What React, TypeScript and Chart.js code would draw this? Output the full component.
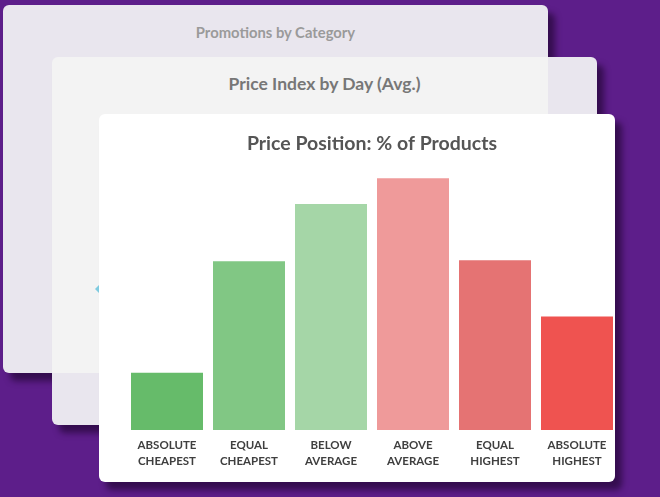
import React, { useEffect, useRef } from "react";
import { Chart, registerables } from "chart.js";

Chart.register(...registerables);

const chartTitle = "Price Position: % of Products";
const backTitle1 = "Promotions by Category";
const backTitle2 = "Price Index by Day (Avg.)";
const categories: string[][] = [
  ["ABSOLUTE", "CHEAPEST"],
  ["EQUAL", "CHEAPEST"],
  ["BELOW", "AVERAGE"],
  ["ABOVE", "AVERAGE"],
  ["EQUAL", "HIGHEST"],
  ["ABSOLUTE", "HIGHEST"],
];
const shares = [5.8, 17.1, 22.9, 25.5, 17.2, 11.5];
const barColors = ["#66bb6a", "#81c784", "#a5d6a7", "#ef9a9a", "#e57373", "#ef5350"];
const yMax = 26;

const FONT = "Lato, 'Open Sans', sans-serif";

export default function App() {
  const ref = useRef<HTMLCanvasElement | null>(null);
  useEffect(() => {
    document.body.style.margin = "0";
    if (!ref.current) return;
    const chart = new Chart(ref.current, {
      type: "bar",
      data: {
        labels: categories,
        datasets: [
          {
            data: shares,
            backgroundColor: barColors,
            borderWidth: 0,
            barPercentage: 1,
            categoryPercentage: 72 / 82,
          },
        ],
      },
      options: {
        animation: false,
        responsive: false,
        maintainAspectRatio: false,
        layout: { padding: { left: 27, right: 7, top: 0, bottom: 6 } },
        plugins: {
          legend: { display: false },
          tooltip: { enabled: false },
          title: {
            display: true,
            text: chartTitle,
            color: "#555555",
            font: { family: FONT, size: 19.5, weight: "bold" },
            padding: { top: 18, bottom: 18 },
          },
        },
        scales: {
          x: {
            grid: { display: false, drawTicks: false },
            border: { display: false },
            ticks: {
              color: "#3f3f3f",
              font: { family: FONT, size: 11.5, weight: "bold", lineHeight: 16 / 11.5 },
              padding: 7,
              maxRotation: 0,
              autoSkip: false,
            },
          },
          y: { display: false, min: 0, max: yMax },
        },
      },
    });
    return () => chart.destroy();
  }, []);

  const shadow = "7px 8px 6px rgba(40, 8, 60, 0.75)";
  return (
    <div
      style={{
        position: "fixed",
        left: 0,
        top: 0,
        width: 660,
        height: 497,
        background: "#5d1e8a",
        overflow: "hidden",
        fontFamily: FONT,
      }}
    >
      <div
        style={{
          position: "absolute",
          left: 3,
          top: 5,
          width: 545,
          height: 368,
          background: "#e9e6ee",
          borderRadius: 6,
          boxShadow: shadow,
        }}
      >
        <div
          style={{
            position: "absolute",
            left: 0,
            right: 0,
            top: 18,
            textAlign: "center",
            color: "#9a9a9a",
            fontWeight: 700,
            fontSize: 14.8,
          }}
        >
          {backTitle1}
        </div>
      </div>
      <div
        style={{
          position: "absolute",
          left: 52,
          top: 57,
          width: 545,
          height: 368,
          background: "#e9e6ee",
          borderRadius: 6,
          boxShadow: shadow,
          overflow: "hidden",
        }}
      >
        <div
          style={{
            position: "absolute",
            left: 0,
            top: 0,
            width: 496,
            height: 316,
            background: "#f3f3f3",
          }}
        />
        <div
          style={{
            position: "absolute",
            left: 0,
            right: 0,
            top: 16,
            textAlign: "center",
            color: "#777777",
            fontWeight: 700,
            fontSize: 17.5,
          }}
        >
          {backTitle2}
        </div>
        <div
          style={{
            position: "absolute",
            left: 43,
            top: 228,
            width: 0,
            height: 0,
            borderTop: "4px solid transparent",
            borderBottom: "4px solid transparent",
            borderRight: "4px solid #7fcbe0",
          }}
        />
      </div>
      <div
        style={{
          position: "absolute",
          left: 99,
          top: 114,
          width: 516,
          height: 368,
          background: "#ffffff",
          borderRadius: 6,
          boxShadow: shadow,
        }}
      />
      <canvas
        ref={ref}
        width={526}
        height={368}
        style={{ position: "absolute", left: 99, top: 114, width: 526, height: 368 }}
      />
    </div>
  );
}
